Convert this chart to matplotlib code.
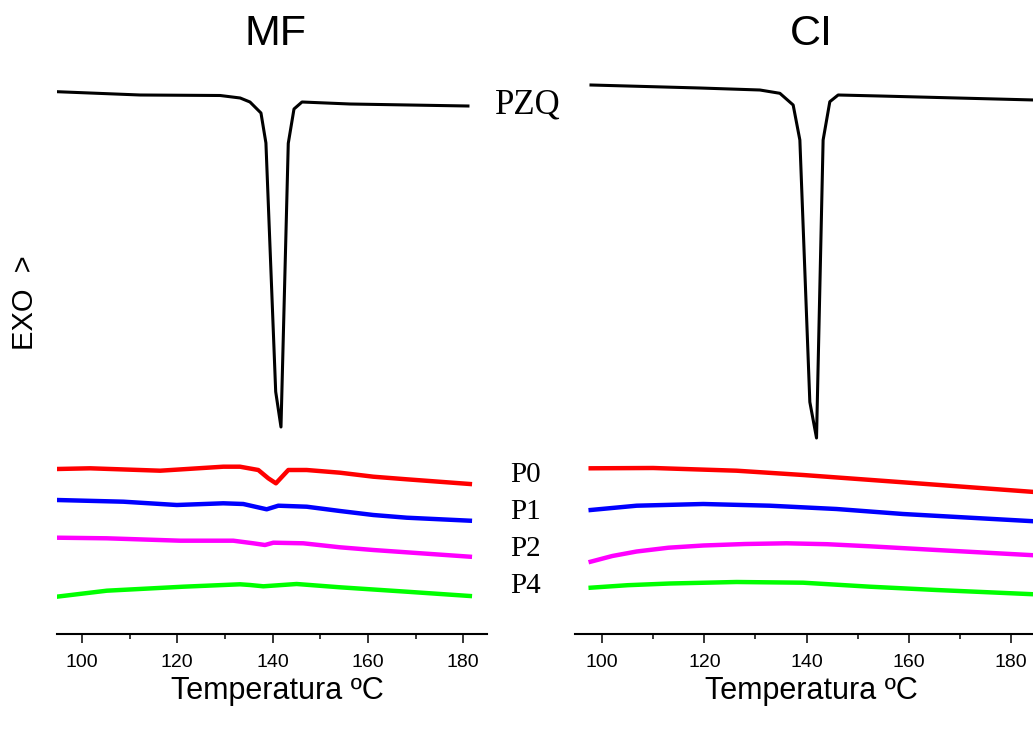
import matplotlib
matplotlib.use("Agg")
import matplotlib.pyplot as plt
from matplotlib.ticker import MultipleLocator

plt.rcParams['font.family'] = ['Liberation Sans', 'DejaVu Sans']

# DSC traces, temperature in C and heat flow in arbitrary units (exo up)
# --- MF (physical mixtures) ---
mf_pzq_t = [94.75, 112.2, 129.0, 133.2, 135.25, 137.56, 138.6, 140.65, 141.76,
            143.29, 144.49, 146.17, 156.24, 181.0]
mf_pzq_y = [542.3, 539, 538.5, 536, 532, 521, 491, 242.3, 207,
            490.7, 525, 532, 530, 528]

mf_p0_t = [94.7, 101.7, 116.4, 129.65, 133.15, 137.0, 139.1, 140.7, 143.3,
           147.15, 154.14, 161.13, 168.14, 181.4]
mf_p0_y = [165, 165.7, 163.3, 167.3, 167.3, 164, 155.7, 150.7, 164,
           164, 161.3, 157.3, 154.7, 150]

mf_p1_t = [94.7, 108.7, 119.9, 129.65, 133.85, 138.76, 141.2, 147.15,
           154.14, 161.13, 168.14, 181.4]
mf_p1_y = [134, 132.3, 129, 130.7, 130, 124.7, 128.3, 127.3,
           123, 119, 116.3, 113.3]

mf_p2_t = [94.7, 105.2, 120.6, 131.75, 135.95, 138.4, 140.15, 146.44,
           154.14, 161.13, 181.4]
mf_p2_y = [96.3, 95.7, 93.3, 93.3, 90.7, 89, 91.3, 90.7,
           86.7, 84, 77.3]

mf_p4_t = [94.7, 105.2, 121.25, 133.15, 135.25, 138.05, 145.05, 154.14,
           168.14, 181.4]
mf_p4_y = [37.3, 43.3, 47.3, 49.7, 49, 47.7, 50, 46.7,
           42.3, 38]

# --- CI (inclusion complexes) ---
ci_pzq_t = [97.83, 119.14, 130.87, 134.78, 137.38, 138.69, 140.64, 141.95,
            143.24, 144.55, 146.18, 154.36, 184.6]
ci_pzq_y = [549, 546, 544, 540.7, 529, 494, 232, 196,
            494, 532.3, 539, 538, 534]

ci_p0_t = [97.77, 110.0, 126.31, 139.33, 158.88, 184.6]
ci_p0_y = [165.7, 166, 163.3, 159, 151.7, 142]

ci_p1_t = [97.77, 106.76, 119.78, 132.82, 145.86, 158.88, 184.6]
ci_p1_y = [124, 128.3, 130, 128.3, 125, 120, 112.7]

ci_p2_t = [97.77, 102.0, 106.76, 113.0, 119.78, 128.0, 136.09, 144.0, 152.37, 165.41, 184.6]
ci_p2_y = [72.3, 78.0, 82.5, 86.3, 88.5, 90.0, 90.7, 89.8, 87.7, 84, 78.7]

ci_p4_t = [97.77, 105.0, 113.27, 126.31, 139.33, 152.37, 165.41, 184.6]
ci_p4_y = [46.3, 48.8, 50.5, 52, 51.3, 47.3, 44, 39.7]

sample_labels = ['P0', 'P1', 'P2', 'P4']
sample_colors = ['#ff0000', '#0000ff', '#ff00ff', '#00ff00']

W, H = 1033, 729
fig = plt.figure(figsize=(W / 100, H / 100), dpi=100)

ax_mf = fig.add_axes([57 / W, 95 / H, 430 / W, 634 / H])
ax_ci = fig.add_axes([575 / W, 95 / H, 458 / W, 634 / H])

panels = [
    (ax_mf, (94.75, 185.0), (mf_pzq_t, mf_pzq_y),
     [(mf_p0_t, mf_p0_y), (mf_p1_t, mf_p1_y), (mf_p2_t, mf_p2_y), (mf_p4_t, mf_p4_y)]),
    (ax_ci, (94.7, 184.3), (ci_pzq_t, ci_pzq_y),
     [(ci_p0_t, ci_p0_y), (ci_p1_t, ci_p1_y), (ci_p2_t, ci_p2_y), (ci_p4_t, ci_p4_y)]),
]

for ax, xlim, pzq, samples in panels:
    ax.plot(pzq[0], pzq[1], color='black', lw=2.2, solid_joinstyle='round')
    for (t, y), c in zip(samples, sample_colors):
        ax.plot(t, y, color=c, lw=3.2, solid_joinstyle='round')
    ax.set_xlim(*xlim)
    ax.set_ylim(0, 634)
    for s in ['top', 'left', 'right']:
        ax.spines[s].set_visible(False)
    ax.spines['bottom'].set_linewidth(1.5)
    ax.set_yticks([])
    ax.xaxis.set_major_locator(MultipleLocator(20))
    ax.xaxis.set_minor_locator(MultipleLocator(10))
    ax.tick_params(axis='x', which='major', direction='out', length=6.5, width=1.1,
                   labelsize=14, pad=8)
    ax.tick_params(axis='x', which='minor', direction='out', length=3.5, width=1.1)
    ax.patch.set_alpha(0)

# panel titles and axis labels
fig.text(276 / W, 1 - 34 / H, 'MF', fontsize=31, ha='center', va='center')
fig.text(811 / W, 1 - 34 / H, 'CI', fontsize=31, ha='center', va='center')
fig.text(277 / W, 1 - 691 / H, 'Temperatura ºC', fontsize=22, ha='center', va='center')
fig.text(811 / W, 1 - 691 / H, 'Temperatura ºC', fontsize=22, ha='center', va='center')
fig.text(25 / W, 1 - 303 / H, 'EXO  >', fontsize=21, rotation=90, ha='center', va='center')

# curve labels between panels
serif = ['Liberation Serif', 'DejaVu Serif']
fig.text(495 / W, 1 - 105 / H, 'PZQ', fontsize=25, family=serif, ha='left', va='center')
label_y = [475, 512, 549, 586]
for lab, py in zip(sample_labels, label_y):
    fig.text(510 / W, 1 - py / H, lab, fontsize=21, family=serif, ha='left', va='center')

fig.savefig('out.png', dpi=100)
